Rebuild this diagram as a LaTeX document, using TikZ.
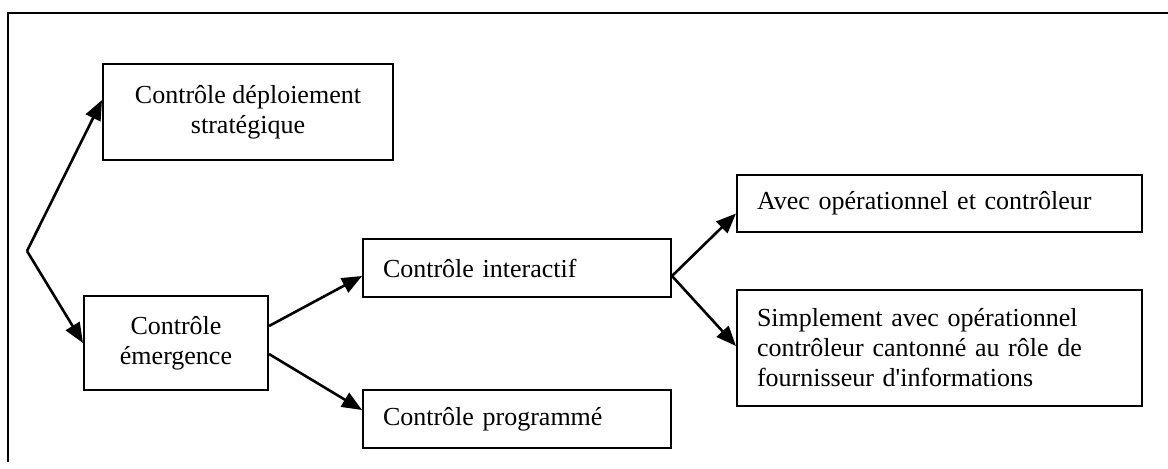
\documentclass[tikz,border=0pt]{standalone}
\usepackage{fontspec}
\setmainfont{Liberation Serif}
\usetikzlibrary{arrows.meta}
\begin{document}
\begin{tikzpicture}[x=0.5pt,y=-0.5pt,
  box/.style={draw, line width=1pt, rectangle, inner ysep=0pt, font=\fontsize{13}{15}\selectfont},
  cbox/.style={box, align=center},
  lbox/.style={box, align=left, inner xsep=10pt},
  arr/.style={line width=1.3pt, -{Triangle[length=10pt,width=8pt]}}]
\useasboundingbox (0,0) rectangle (1168,468);
\draw[line width=1pt] (8,462) -- (8,13) -- (1168,13);
\node[cbox, minimum width=145pt, minimum height=48pt] (A) at (248,112) {Contrôle déploiement\\stratégique};
\node[cbox, minimum width=92pt, minimum height=47pt] (B) at (176,343) {Contrôle\\émergence};
\node[lbox, text width=134pt, minimum height=29pt] (C) at (517,268) {Contrôle interactif};
\node[lbox, text width=134pt, minimum height=29pt] (D) at (517,419) {Contrôle programmé};
\node[lbox, text width=182.5pt, minimum height=28.5pt] (E) at (939.5,203.5) {Avec opérationnel et contrôleur};
\node[lbox, text width=182.5pt, minimum height=58pt] (F) at (939.5,348) {Simplement avec opérationnel\\contrôleur cantonné au rôle de\\fournisseur d\textquotesingle informations};
\coordinate (K) at (27,251);
\draw[arr] (K) -- ([yshift=6pt]A.west);
\draw[arr] (K) -- (B.west);
\draw[arr] ([yshift=8.5pt]B.east) -- ([yshift=-4pt]C.west);
\draw[arr] ([yshift=-5.5pt]B.east) -- ([yshift=4.5pt]D.west);
\draw[arr] ([yshift=-4pt]C.east) -- ([yshift=-5pt]E.west);
\draw[arr] ([yshift=-4pt]C.east) -- ([yshift=1pt]F.west);
\end{tikzpicture}
\end{document}
